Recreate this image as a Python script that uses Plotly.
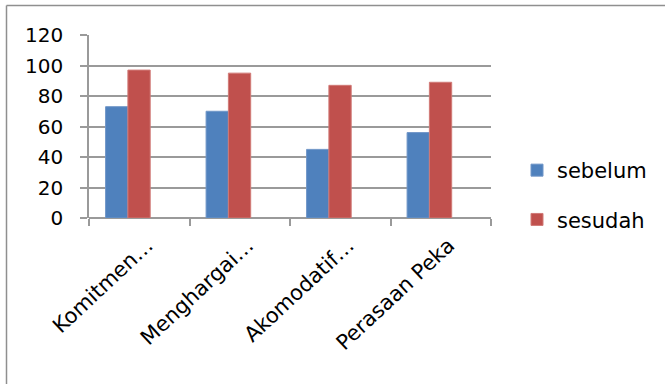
import plotly.graph_objects as go

# Scores before and after, per aspect
categories = ["Komitmen…", "Menghargai…", "Akomodatif…", "Perasaan Peka"]
sebelum = [73, 70, 45, 56]
sesudah = [97, 95, 87, 89]
series_names = ["sebelum", "sesudah"]
y_ticks = [0, 20, 40, 60, 80, 100, 120]

W, H = 665, 384
L, R, T, B = 89, 174, 35, 166
pw, ph = W - L - R, H - T - B

def px_x(x):
    return (x - L) / pw

def px_y(y):
    return (H - B - y) / ph

FONT = "DejaVu Sans"
GRID = "#9a9a9a"
BAR_W = 0.222  # bar width in category units

fig = go.Figure()
fig.add_trace(go.Bar(
    x=categories, y=sebelum, name=series_names[0], legendgroup="a",
    width=BAR_W, offset=-0.335,
    marker=dict(color="#4F81BD", line=dict(color="#7096c8", width=1)),
))
fig.add_trace(go.Bar(
    x=categories, y=sesudah, name=series_names[1], legendgroup="b",
    width=BAR_W, offset=-0.113,
    marker=dict(color="#C0504D", line=dict(color="#d17a77", width=1)),
))

frame = dict(type="line", xref="paper", yref="paper",
             line=dict(color="#8f8f8f", width=1.5))

fig.update_layout(
    width=W, height=H,
    margin=dict(l=L, r=R, t=T, b=B),
    paper_bgcolor="white", plot_bgcolor="white",
    barmode="overlay",
    font=dict(family=FONT, size=20, color="black"),
    showlegend=True,
    legend=dict(
        x=px_x(517), xanchor="left", y=px_y(150), yanchor="top",
        font=dict(family=FONT, size=21, color="black"),
        tracegroupgap=19, bgcolor="rgba(0,0,0,0)",
    ),
    xaxis=dict(
        type="category", tickangle=-43, tickson="boundaries",
        ticks="outside", ticklen=7, tickcolor=GRID, tickwidth=1.5,
        showgrid=False, showline=False, zeroline=False,
        tickfont=dict(family=FONT, size=21),
        ticklabelshift=8, ticklabelstandoff=10,
    ),
    yaxis=dict(
        range=[0, 120], tickvals=y_ticks, ticks="outside", ticklen=7,
        tickcolor=GRID, tickwidth=1.5, showgrid=True, gridcolor=GRID,
        gridwidth=1.5, showline=True, linecolor=GRID, linewidth=1.5,
        zeroline=True, zerolinecolor=GRID, zerolinewidth=1.5,
        ticklabelstandoff=13,
    ),
    shapes=[
        dict(frame, x0=px_x(6.5), x1=px_x(700), y0=px_y(5.5), y1=px_y(5.5)),
        dict(frame, x0=px_x(6.5), x1=px_x(6.5), y0=px_y(5.5), y1=px_y(420)),
    ],
)

fig.write_html("out.html")
